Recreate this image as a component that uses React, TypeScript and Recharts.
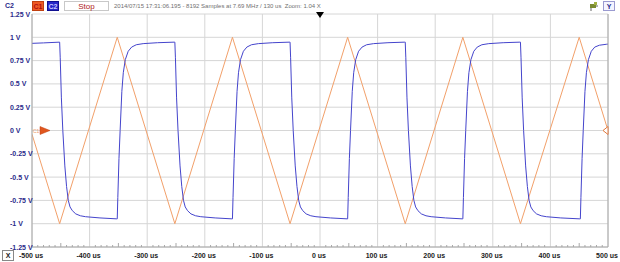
import React from 'react';
import { CartesianGrid, Line, LineChart, ReferenceDot, ReferenceLine, XAxis, YAxis } from 'recharts';

const W = 620;
const H = 262;

const xMajorTicks = [-500, -400, -300, -200, -100, 0, 100, 200, 300, 400, 500];
const xTickLabels = ['-500 us', '-400 us', '-300 us', '-200 us', '-100 us', '0 us', '100 us', '200 us', '300 us', '400 us', '500 us'];
const yTicks = [-1.25, -1, -0.75, -0.5, -0.25, 0, 0.25, 0.5, 0.75, 1, 1.25];
const yTickLabels = ['-1.25 V', '-1 V', '-0.75 V', '-0.5 V', '-0.25 V', '0 V', '0.25 V', '0.5 V', '0.75 V', '1 V', '1.25 V'];

// C1: triangle wave (us, V)
const orangeT = [-500, -452, -352, -252, -152, -52, 48, 148, 248, 348, 450, 500];
const orangeV = [-0.04, -1, 1, -1, 1, -1, 1, -1, 1, -1, 1, 0];

// C2: square-ish wave with RC edges (us, V)
const blueTrace: [number, number][] = [
  [-500, 0.935], [-480, 0.94],
  [-452, 0.948], [-451, 0.78], [-449, 0.35], [-446.5, 0], [-443, -0.38], [-440, -0.6], [-437, -0.75], [-434, -0.82], [-430, -0.86], [-424, -0.895], [-416, -0.915], [-407, -0.925], [-382, -0.938], [-353, -0.948],
  [-352, -0.948], [-351, -0.72], [-349, -0.3], [-347, 0], [-344, 0.42], [-341.5, 0.62], [-338, 0.76], [-333, 0.85], [-327, 0.895], [-319, 0.92], [-307, 0.932], [-282, 0.942], [-253, 0.948],
  [-252, 0.948], [-251, 0.78], [-249, 0.35], [-246.5, 0], [-243, -0.38], [-240, -0.6], [-237, -0.75], [-234, -0.82], [-230, -0.86], [-224, -0.895], [-216, -0.915], [-207, -0.925], [-182, -0.938], [-153, -0.948],
  [-152, -0.948], [-151, -0.72], [-149, -0.3], [-147, 0], [-144, 0.42], [-141.5, 0.62], [-138, 0.76], [-133, 0.85], [-127, 0.895], [-119, 0.92], [-107, 0.932], [-82, 0.942], [-53, 0.948],
  [-52, 0.948], [-51, 0.78], [-49, 0.35], [-46.5, 0], [-43, -0.38], [-40, -0.6], [-37, -0.75], [-34, -0.82], [-30, -0.86], [-24, -0.895], [-16, -0.915], [-7, -0.925], [18, -0.938], [47, -0.948],
  [48, -0.948], [49, -0.72], [51, -0.3], [53, 0], [56, 0.42], [58.5, 0.62], [62, 0.76], [67, 0.85], [73, 0.895], [81, 0.92], [93, 0.932], [118, 0.942], [147, 0.948],
  [148, 0.948], [149, 0.78], [151, 0.35], [153.5, 0], [157, -0.38], [160, -0.6], [163, -0.75], [166, -0.82], [170, -0.86], [176, -0.895], [184, -0.915], [193, -0.925], [218, -0.938], [247, -0.948],
  [248, -0.948], [249, -0.72], [251, -0.3], [253, 0], [256, 0.42], [258.5, 0.62], [262, 0.76], [267, 0.85], [273, 0.895], [281, 0.92], [293, 0.932], [318, 0.942], [347, 0.948],
  [348, 0.948], [349, 0.78], [351, 0.35], [353.5, 0], [357, -0.38], [360, -0.6], [363, -0.75], [366, -0.82], [370, -0.86], [376, -0.895], [384, -0.915], [393, -0.925], [418, -0.938], [451, -0.948],
  [452, -0.948], [453, -0.72], [455, -0.3], [457, 0], [460, 0.42], [462.5, 0.62], [466, 0.76], [471, 0.85], [477, 0.895], [485, 0.915], [497, 0.925], [500, 0.927],
];

const minorStepUs = 10;
const xMinorTicks = Array.from({ length: 101 }, (_, i) => -500 + i * minorStepUs);
const yMinorTicks = Array.from({ length: 51 }, (_, i) => Math.round((-1.25 + i * 0.05) * 100) / 100);

const orangeData = orangeT.map((t, i) => ({ t, v: orangeV[i] }));
const blueData = blueTrace.map(([t, v]) => ({ t, v }));

const ORANGE = '#f2a06a';
const BLUE = '#4444cc';
const GRID = '#d6d6d6';
const AXIS = '#a8a8a8';
const FONT = '"Liberation Sans", Arial, sans-serif';

const tickLen = (v: number, big: number, mid: number, small: number, step: number) => {
  const r = Math.round(v / step);
  if (r % 10 === 0) return big;
  if (r % 5 === 0) return mid;
  return small;
};

const BottomTick = (props: any) => {
  const { x, y, payload } = props;
  const v = payload.value as number;
  const idx = xMajorTicks.indexOf(v);
  const len = tickLen(v, 0, 4, 2, minorStepUs);
  return (
    <g>
      {len > 0 && <line x1={x} x2={x} y1={y} y2={y - len} stroke={AXIS} />}
      {idx >= 0 && (
        <text x={x - 1} y={y + 11} textAnchor="middle" fontFamily={FONT} fontSize={7} fontWeight="bold" fill="#222">
          {xTickLabels[idx]}
        </text>
      )}
    </g>
  );
};

const TopTick = (props: any) => {
  const { x, y, payload } = props;
  const len = tickLen(payload.value, 5, 4, 2, minorStepUs);
  return <line x1={x} x2={x} y1={y} y2={y + len} stroke={AXIS} />;
};

const LeftTick = (props: any) => {
  const { x, y, payload } = props;
  const idx = yTicks.indexOf(payload.value);
  return (
    <text x={x - 22} y={y + 2.5} textAnchor="start" fontFamily={FONT} fontSize={7} fontWeight="bold" fill="#2a2a8a">
      {idx >= 0 ? yTickLabels[idx] : ''}
    </text>
  );
};

const RightTick = (props: any) => {
  const { x, y, payload } = props;
  const r = Math.round(payload.value / 0.05);
  const len = r % 5 === 0 ? 4 : 2;
  return <line x1={x} x2={x - len} y1={y} y2={y} stroke={AXIS} />;
};

const LeftMarker = (props: any) => {
  const { cx, cy } = props;
  return (
    <g>
      <text x={cx + 1} y={cy + 2} fontFamily={FONT} fontSize={5} fill="#f0a070">C1</text>
      <polygon points={`${cx + 8},${cy - 4} ${cx + 18},${cy} ${cx + 8},${cy + 4}`} fill="#e0561e" stroke="#c04010" strokeWidth={0.5} />
    </g>
  );
};

const RightMarker = (props: any) => {
  const { cx, cy } = props;
  return <polygon points={`${cx - 5},${cy} ${cx},${cy - 4} ${cx},${cy + 4}`} fill="#fff" stroke="#e07a40" strokeWidth={1} />;
};

const TriggerMarker = (props: any) => {
  const { cx, cy } = props;
  return <polygon points={`${cx - 4},${cy - 2} ${cx + 4},${cy - 2} ${cx},${cy + 4}`} fill="#000" />;
};

const boxStyle: React.CSSProperties = {
  position: 'absolute',
  top: 1,
  height: 10,
  fontFamily: FONT,
  fontSize: 7,
  fontWeight: 'bold',
  lineHeight: '10px',
  textAlign: 'center',
  boxSizing: 'border-box',
};

export default function App() {
  return (
    <div style={{ position: 'absolute', left: 0, top: 0, width: W, height: H, background: '#fff', overflow: 'hidden' }}>
      <LineChart width={W} height={H} margin={{ top: 14, right: 0, left: 0, bottom: 0 }}>
        <CartesianGrid horizontal vertical={false} stroke={GRID} />
        {xMajorTicks.map((t) => (
          <ReferenceLine key={t} x={t} stroke={GRID} />
        ))}
        <XAxis
          dataKey="t"
          type="number"
          domain={[-500, 500]}
          ticks={xMinorTicks}
          interval={0}
          allowDataOverflow
          tickSize={0}
          tickMargin={0}
          tickLine={false}
          axisLine={{ stroke: AXIS }}
          height={15}
          tick={<BottomTick />}
        />
        <XAxis
          xAxisId="top"
          orientation="top"
          dataKey="t"
          type="number"
          domain={[-500, 500]}
          ticks={xMinorTicks}
          interval={0}
          tickSize={0}
          tickMargin={0}
          tickLine={false}
          axisLine={{ stroke: AXIS }}
          height={0}
          tick={<TopTick />}
        />
        <YAxis
          type="number"
          domain={[-1.25, 1.25]}
          ticks={yTicks}
          interval={0}
          tickSize={0}
          tickMargin={0}
          tickLine={false}
          axisLine={{ stroke: AXIS }}
          width={32}
          tick={<LeftTick />}
        />
        <YAxis
          yAxisId="right"
          orientation="right"
          type="number"
          domain={[-1.25, 1.25]}
          ticks={yMinorTicks}
          interval={0}
          tickSize={0}
          tickMargin={0}
          tickLine={false}
          axisLine={{ stroke: AXIS }}
          width={12}
          tick={<RightTick />}
        />
        <Line data={orangeData} dataKey="v" type="linear" stroke={ORANGE} strokeWidth={1} dot={false} isAnimationActive={false} />
        <Line data={blueData} dataKey="v" type="linear" stroke={BLUE} strokeWidth={1} dot={false} isAnimationActive={false} />
        <ReferenceDot x={-500} y={0} r={0} ifOverflow="visible" shape={<LeftMarker />} />
        <ReferenceDot x={500} y={0} r={0} ifOverflow="visible" shape={<RightMarker />} />
        <ReferenceDot x={0} y={1.25} r={0} ifOverflow="visible" shape={<TriggerMarker />} />
      </LineChart>

      <div style={{ position: 'absolute', left: 5, top: 1, fontFamily: FONT, fontSize: 7, fontWeight: 'bold', color: '#2a2a8a', lineHeight: '10px' }}>C2</div>
      <div style={{ ...boxStyle, left: 32, width: 12, background: '#ee5a24', color: '#b01010', border: '1px solid #c04010' }}>C1</div>
      <div style={{ ...boxStyle, left: 47, width: 12, background: '#2828c8', color: '#c8c8ff', border: '1px solid #101090' }}>C2</div>
      <div style={{ ...boxStyle, left: 64, width: 45, background: '#fff', color: '#b02020', border: '1px solid #c8c8c8', fontSize: 8, fontWeight: 'normal' }}>Stop</div>
      <div style={{ position: 'absolute', left: 114, top: 1, fontFamily: FONT, fontSize: 6, color: '#707070', lineHeight: '10px', whiteSpace: 'nowrap' }}>
        2014/07/15 17:31:06.195 - 8192 Samples at 7.69 MHz / 130 us&nbsp; Zoom: 1.04 X
      </div>
      <svg style={{ position: 'absolute', left: 589, top: 2 }} width={10} height={9}>
        <rect x={1} y={2} width={6} height={4} fill="#7a8a30" />
        <rect x={5} y={0} width={3} height={3} fill="#a0b040" />
        <line x1={2} y1={6} x2={2} y2={9} stroke="#666" />
        <line x1={7} y1={4} x2={9} y2={4} stroke="#666" />
      </svg>
      <div style={{ ...boxStyle, left: 603, width: 12, background: '#f4f4ff', color: '#2a2a8a', border: '1px solid #9a9ad0', fontSize: 7 }}>Y</div>
      <div style={{ ...boxStyle, top: 250, left: 2, width: 12, height: 11, background: '#fff', color: '#222', border: '1px solid #888', fontSize: 7 }}>X</div>
    </div>
  );
}
